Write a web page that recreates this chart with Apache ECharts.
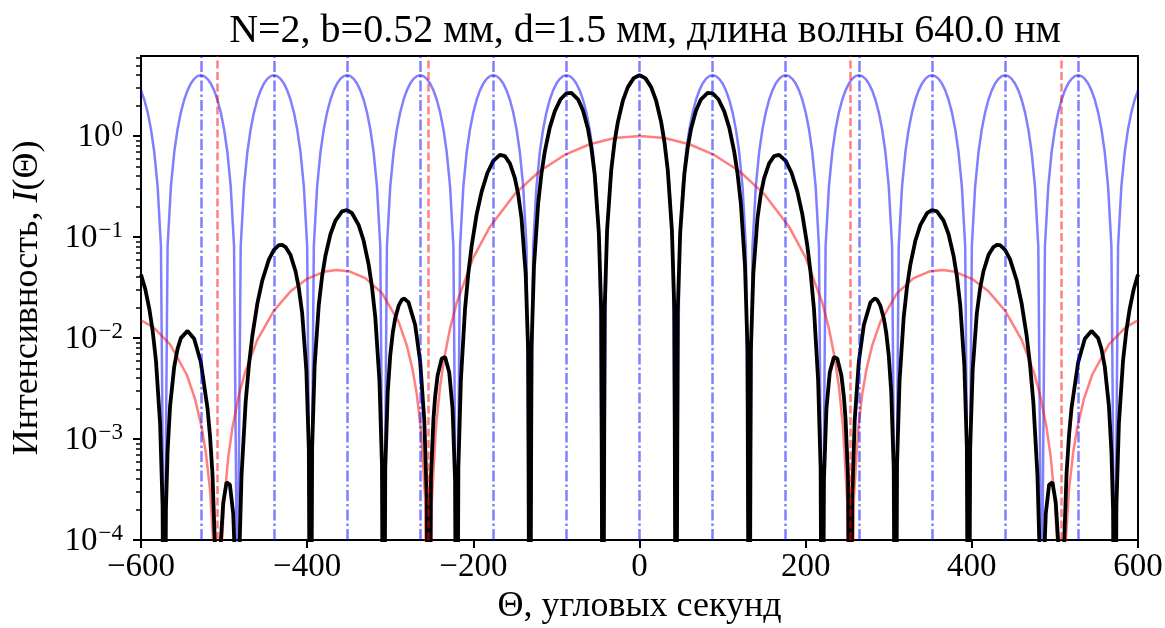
<!DOCTYPE html>
<html>
<head>
<meta charset="utf-8">
<script src="https://cdn.jsdelivr.net/npm/echarts@6/dist/echarts.min.js"></script>
<style>
html, body { margin: 0; padding: 0; background: #fff; }
#chart { width: 1165px; height: 628px; }
</style>
</head>
<body>
<div id="chart"></div>
<script>
var FONT = "'Liberation Serif', 'DejaVu Serif', serif";

// interference term, N=2 (blue)
var blueTheta = [
    -600, -596, -592, -588, -584, -580, -576, -572, -568, -564, -560, -556, -552, -548, -544, -540, -536, -532,
    -528, -524, -520, -516, -512, -508, -504, -500, -496, -492, -488, -484, -480, -476, -472, -468, -464, -460, -456, -452, -448, -444,
    -440, -436, -432, -428, -424, -420, -416, -412, -408, -404, -400, -396, -392, -388, -384, -380, -376, -372, -368, -364, -360, -356,
    -352, -348, -344, -340, -336, -332, -328, -324, -320, -316, -312, -308, -304, -300, -296, -292, -288, -284, -280, -276, -272, -268,
    -264, -260, -256, -252, -248, -244, -240, -236, -232, -228, -224, -220, -216, -212, -208, -204, -200, -196, -192, -188, -184, -180,
    -176, -172, -168, -164, -160, -156, -152, -148, -144, -140, -136, -132, -128, -124, -120, -116, -112, -108, -104, -100, -96, -92,
    -88, -84, -80, -76, -72, -68, -64, -60, -56, -52, -48, -44, -40, -36, -32, -28, -24, -20, -16, -12, -8, -4,
    0, 4, 8, 12, 16, 20, 24, 28, 32, 36, 40, 44, 48, 52, 56, 60, 64, 68, 72, 76, 80, 84,
    88, 92, 96, 100, 104, 108, 112, 116, 120, 124, 128, 132, 136, 140, 144, 148, 152, 156, 160, 164, 168, 172,
    176, 180, 184, 188, 192, 196, 200, 204, 208, 212, 216, 220, 224, 228, 232, 236, 240, 244, 248, 252, 256, 260,
    264, 268, 272, 276, 280, 284, 288, 292, 296, 300, 304, 308, 312, 316, 320, 324, 328, 332, 336, 340, 344, 348,
    352, 356, 360, 364, 368, 372, 376, 380, 384, 388, 392, 396, 400, 404, 408, 412, 416, 420, 424, 428, 432, 436,
    440, 444, 448, 452, 456, 460, 464, 468, 472, 476, 480, 484, 488, 492, 496, 500, 504, 508, 512, 516, 520, 524,
    528, 532, 536, 540, 544, 548, 552, 556, 560, 564, 568, 572, 576, 580, 584, 588, 592, 596, 600
];
var blueIntensity = [
    2.831, 2.285, 1.715, 1.169, 0.6903, 0.3175, 0.081, 1e-5, 0.081, 0.3175, 0.6903, 1.169, 1.715, 2.285, 2.831, 3.31, 3.682, 3.919,
    4, 3.919, 3.682, 3.31, 2.831, 2.285, 1.715, 1.169, 0.6903, 0.3175, 0.081, 1e-5, 0.081, 0.3175, 0.6903, 1.169, 1.715, 2.285, 2.831, 3.31, 3.682, 3.919,
    4, 3.919, 3.682, 3.31, 2.831, 2.285, 1.715, 1.169, 0.6903, 0.3175, 0.081, 1e-5, 0.081, 0.3175, 0.6903, 1.169, 1.715, 2.285, 2.831, 3.31, 3.682, 3.919,
    4, 3.919, 3.682, 3.31, 2.831, 2.285, 1.715, 1.169, 0.6903, 0.3175, 0.081, 1e-5, 0.081, 0.3175, 0.6903, 1.169, 1.715, 2.285, 2.831, 3.31, 3.682, 3.919,
    4, 3.919, 3.682, 3.31, 2.831, 2.285, 1.715, 1.169, 0.6903, 0.3175, 0.081, 1e-5, 0.081, 0.3175, 0.6903, 1.169, 1.715, 2.285, 2.831, 3.31, 3.682, 3.919,
    4, 3.919, 3.682, 3.31, 2.831, 2.285, 1.715, 1.169, 0.6903, 0.3175, 0.081, 1e-5, 0.081, 0.3175, 0.6903, 1.169, 1.715, 2.285, 2.831, 3.31, 3.682, 3.919,
    4, 3.919, 3.682, 3.31, 2.831, 2.285, 1.715, 1.169, 0.6903, 0.3175, 0.081, 1e-5, 0.081, 0.3175, 0.6903, 1.169, 1.715, 2.285, 2.831, 3.31, 3.682, 3.919,
    4, 3.919, 3.682, 3.31, 2.831, 2.285, 1.715, 1.169, 0.6903, 0.3175, 0.081, 1e-5, 0.081, 0.3175, 0.6903, 1.169, 1.715, 2.285, 2.831, 3.31, 3.682, 3.919,
    4, 3.919, 3.682, 3.31, 2.831, 2.285, 1.715, 1.169, 0.6903, 0.3175, 0.081, 1e-5, 0.081, 0.3175, 0.6903, 1.169, 1.715, 2.285, 2.831, 3.31, 3.682, 3.919,
    4, 3.919, 3.682, 3.31, 2.831, 2.285, 1.715, 1.169, 0.6903, 0.3175, 0.081, 1e-5, 0.081, 0.3175, 0.6903, 1.169, 1.715, 2.285, 2.831, 3.31, 3.682, 3.919,
    4, 3.919, 3.682, 3.31, 2.831, 2.285, 1.715, 1.169, 0.6903, 0.3175, 0.081, 1e-5, 0.081, 0.3175, 0.6903, 1.169, 1.715, 2.285, 2.831, 3.31, 3.682, 3.919,
    4, 3.919, 3.682, 3.31, 2.831, 2.285, 1.715, 1.169, 0.6903, 0.3175, 0.081, 1e-5, 0.081, 0.3175, 0.6903, 1.169, 1.715, 2.285, 2.831, 3.31, 3.682, 3.919,
    4, 3.919, 3.682, 3.31, 2.831, 2.285, 1.715, 1.169, 0.6903, 0.3175, 0.081, 1e-5, 0.081, 0.3175, 0.6903, 1.169, 1.715, 2.285, 2.831, 3.31, 3.682, 3.919,
    4, 3.919, 3.682, 3.31, 2.831, 2.285, 1.715, 1.169, 0.6903, 0.3175, 0.081, 1e-5, 0.081, 0.3175, 0.6903, 1.169, 1.715, 2.285, 2.831
];

// single slit envelope (red)
var envTheta = [
    -600, -585, -565, -545, -535, -527, -522, -517, -512, -507.74, -504, -500, -495, -490, -482,
    -475, -460, -440, -420, -400, -380, -365, -350, -330, -310, -290, -280, -273, -268, -263,
    -258, -253.87, -250, -245, -240, -235, -228, -220, -200, -180, -150, -120, -90, -60, -30,
    0,
    30, 60, 90, 120, 150, 180, 200, 220, 228, 235, 240, 245, 250, 253.87, 258,
    263, 268, 273, 280, 290, 310, 330, 350, 365, 380, 400, 420, 440, 460, 475,
    482, 490, 495, 500, 504, 507.74, 512, 517, 522, 527, 535, 545, 565, 585, 600
];
var envIntensity = [
    0.015, 0.01274, 0.008662, 0.004351, 0.002499, 0.00131, 0.0007386, 0.0003193, 0.00006916, 1e-7, 0.00005504, 0.0002389, 0.000657, 0.00129, 0.00276,
    0.004497, 0.009575, 0.01865, 0.02898, 0.03856, 0.04522, 0.04716, 0.04594, 0.03919, 0.02783, 0.01452, 0.00841, 0.004819, 0.002751, 0.0012,
    0.0002561, 1e-7, 0.0002394, 0.001305, 0.003307, 0.006332, 0.01244, 0.02235, 0.06242, 0.1265, 0.2671, 0.4501, 0.6493, 0.8287, 0.9549,
    1,
    0.9549, 0.8287, 0.6493, 0.4501, 0.2671, 0.1265, 0.06242, 0.02235, 0.01244, 0.006332, 0.003307, 0.001305, 0.0002394, 1e-7, 0.0002561,
    0.0012, 0.002751, 0.004819, 0.00841, 0.01452, 0.02783, 0.03919, 0.04594, 0.04716, 0.04522, 0.03856, 0.02898, 0.01865, 0.009575, 0.004497,
    0.00276, 0.00129, 0.000657, 0.0002389, 0.00005504, 1e-7, 0.00006916, 0.0003193, 0.0007386, 0.00131, 0.002499, 0.004351, 0.008662, 0.01274, 0.015
];

// total intensity (black)
var totalTheta = [
    -600, -595, -590, -586, -582, -577, -574, -572, -570, -568,
    -565, -560, -556, -552, -544, -536, -528, -520, -517, -514,
    -510, -507.74, -506, -504, -501, -497, -493, -489, -486, -484,
    -482, -479, -474, -470, -466, -460, -454, -446, -440, -434,
    -430, -426, -420, -414, -410, -406, -401, -398, -396, -394,
    -391, -386, -382, -378, -372, -366, -358, -352, -346, -338,
    -332, -326, -322, -318, -313, -310, -308, -306, -303, -300,
    -297, -294, -290, -286, -283, -278, -270, -264, -259, -256,
    -253.87, -251, -248, -246, -243, -238, -234, -229, -225, -222,
    -220, -218, -215, -210, -206, -202, -196, -190, -183,
    -176, -168, -162, -156, -150, -146, -142, -137, -134,
    -132, -130, -127, -122, -118, -114, -108, -102, -95,
    -88, -82, -74, -68, -62, -58, -54, -49, -46,
    -44, -42, -39, -34, -30, -26, -20, -14, -7,
    0,
    7, 14, 20, 26, 30, 34, 39, 42, 44,
    46, 49, 54, 58, 62, 68, 74, 82, 88,
    95, 102, 108, 114, 118, 122, 127, 130, 132,
    134, 137, 142, 146, 150, 156, 162, 168, 176,
    183, 190, 196, 202, 206, 210, 215, 218, 220,
    222, 225, 229, 234, 238, 243, 246, 248, 251, 253.87,
    256, 259, 264, 270, 278, 283, 286, 290, 294, 297,
    300, 303, 306, 308, 310, 313, 318, 322, 326, 332,
    338, 346, 352, 358, 366, 372, 378, 382, 386, 391,
    394, 396, 398, 401, 406, 410, 414, 420, 426, 430,
    434, 440, 446, 454, 460, 466, 470, 474, 479, 482,
    484, 486, 489, 493, 497, 501, 504, 506, 507.74, 510,
    514, 517, 520, 528, 536, 544, 552, 556, 560, 565,
    568, 570, 572, 574, 577, 582, 586, 590, 595, 600
];
var totalIntensity = [
    0.04248, 0.03076, 0.01945, 0.01184, 0.005969, 0.001418, 0.000215, 1e-7, 0.000198, 0.000754,
    0.002119, 0.005218, 0.007809, 0.009972, 0.01176, 0.009824, 0.005766, 0.002031, 0.00109, 0.000456,
    0.0000503, 1e-7, 0.00002367, 0.00009443, 0.0002351, 0.0003727, 0.0003527, 0.0001825, 0.00003965, 1e-7,
    0.000056, 0.0004365, 0.002342, 0.005491, 0.0105, 0.02188, 0.03714, 0.06012, 0.0746, 0.08309,
    0.08347, 0.07962, 0.06621, 0.04583, 0.03113, 0.01758, 0.004824, 0.000799, 1e-7, 0.000831,
    0.005317, 0.02139, 0.04101, 0.06532, 0.1065, 0.1452, 0.1795, 0.1852, 0.1721, 0.1311,
    0.09177, 0.05335, 0.03219, 0.01608, 0.003764, 0.000565, 1e-7, 0.000512, 0.002935, 0.006727,
    0.01123, 0.01572, 0.02077, 0.02394, 0.0246, 0.02253, 0.01345, 0.005858, 0.001518, 0.000255,
    1e-7, 0.000418, 0.001584, 0.002616, 0.00426, 0.006281, 0.006477, 0.004558, 0.001996, 0.000397,
    1e-7, 0.0005146, 0.003825, 0.01936, 0.04395, 0.08208, 0.1675, 0.2818, 0.4329,
    0.568, 0.65, 0.6313, 0.5364, 0.3822, 0.2654, 0.1532, 0.04334, 0.007326,
    1e-7, 0.007834, 0.05122, 0.2142, 0.4247, 0.7009, 1.21, 1.756, 2.315,
    2.65, 2.675, 2.311, 1.793, 1.172, 0.7696, 0.4214, 0.1117, 0.0182,
    1e-7, 0.01854, 0.117, 0.4617, 0.8753, 1.382, 2.238, 3.05, 3.746,
    4,
    3.746, 3.05, 2.238, 1.382, 0.8753, 0.4617, 0.117, 0.01854, 1e-7,
    0.0182, 0.1117, 0.4214, 0.7696, 1.172, 1.793, 2.311, 2.675, 2.65,
    2.315, 1.756, 1.21, 0.7009, 0.4247, 0.2142, 0.05122, 0.007834, 1e-7,
    0.007326, 0.04334, 0.1532, 0.2654, 0.3822, 0.5364, 0.6313, 0.65, 0.568,
    0.4329, 0.2818, 0.1675, 0.08208, 0.04395, 0.01936, 0.003825, 0.0005146, 1e-7,
    0.000397, 0.001996, 0.004558, 0.006477, 0.006281, 0.00426, 0.002616, 0.001584, 0.000418, 1e-7,
    0.000255, 0.001518, 0.005858, 0.01345, 0.02253, 0.0246, 0.02394, 0.02077, 0.01572, 0.01123,
    0.006727, 0.002935, 0.000512, 1e-7, 0.000565, 0.003764, 0.01608, 0.03219, 0.05335, 0.09177,
    0.1311, 0.1721, 0.1852, 0.1795, 0.1452, 0.1065, 0.06532, 0.04101, 0.02139, 0.005317,
    0.000831, 1e-7, 0.000799, 0.004824, 0.01758, 0.03113, 0.04583, 0.06621, 0.07962, 0.08347,
    0.08309, 0.0746, 0.06012, 0.03714, 0.02188, 0.0105, 0.005491, 0.002342, 0.0004365, 0.000056,
    1e-7, 0.00003965, 0.0001825, 0.0003527, 0.0003727, 0.0002351, 0.00009443, 0.00002367, 1e-7, 0.0000503,
    0.000456, 0.00109, 0.002031, 0.005766, 0.009824, 0.01176, 0.009972, 0.007809, 0.005218, 0.002119,
    0.000754, 0.000198, 1e-7, 0.000215, 0.001418, 0.005969, 0.01184, 0.01945, 0.03076, 0.04248
];

// interference maxima and envelope minima, arcsec
var maxTheta = [-528.04, -440.03, -352.03, -264.02, -176.01, -88.01, 0, 88.01, 176.01, 264.02, 352.03, 440.03, 528.04];
var minTheta = [-507.74, -253.87, 253.87, 507.74];

var yMajor = [1e-4, 1e-3, 1e-2, 1e-1, 1];
var yMinor = [
    2e-4, 3e-4, 4e-4, 5e-4, 6e-4, 7e-4, 8e-4, 9e-4,
    2e-3, 3e-3, 4e-3, 5e-3, 6e-3, 7e-3, 8e-3, 9e-3,
    2e-2, 3e-2, 4e-2, 5e-2, 6e-2, 7e-2, 8e-2, 9e-2,
    0.2, 0.3, 0.4, 0.5, 0.6, 0.7, 0.8, 0.9,
    2, 3, 4, 5, 6
];

function pairs(xs, ys) {
    return xs.map(function (x, i) { return [x, ys[i]]; });
}

var chart = echarts.init(document.getElementById('chart'));

chart.setOption({
    animation: false,
    backgroundColor: '#fff',
    title: {
        text: 'N=2, b=0.52 мм, d=1.5 мм, длина волны 640.0 нм',
        left: 640,
        top: 6,
        textAlign: 'center',
        textStyle: { fontFamily: FONT, fontSize: 40, fontWeight: 'normal', color: '#000' }
    },
    grid: {
        left: 141, right: 27, top: 56, bottom: 88,
        outerBoundsMode: 'none',
        containLabel: false,
        show: true, borderColor: '#000', borderWidth: 2, backgroundColor: 'transparent'
    },
    xAxis: {
        type: 'value',
        min: -600, max: 600, interval: 200,
        axisLine: { onZero: false, lineStyle: { color: '#000', width: 2 } },
        axisTick: { length: 8, lineStyle: { color: '#000', width: 2 } },
        axisLabel: {
            fontFamily: FONT, fontSize: 33, color: '#000', margin: 11,
            formatter: function (v) { return String(v).replace('-', '\u2212'); }
        },
        splitLine: { show: false },
        name: 'Θ, угловых секунд',
        nameLocation: 'middle',
        nameGap: 41,
        nameTextStyle: { fontFamily: FONT, fontSize: 36, color: '#000' }
    },
    yAxis: [{
        type: 'log',
        logBase: 10,
        min: 1e-4, max: 6.2,
        axisLine: { show: true, onZero: false, lineStyle: { color: '#000', width: 2 } },
        axisTick: { show: true, length: 8, lineStyle: { color: '#000', width: 2 }, customValues: yMajor },
        axisLabel: {
            customValues: yMajor,
            margin: 18,
            formatter: function (v) {
                var p = Math.round(Math.log10(v));
                return '{b|10}{s|' + (p < 0 ? '\u2212' + (-p) : p) + '}';
            },
            rich: {
                b: { fontFamily: FONT, fontSize: 33, color: '#000', verticalAlign: 'bottom' },
                s: { fontFamily: FONT, fontSize: 23, color: '#000', verticalAlign: 'bottom', padding: [0, 0, 13, 1] }
            }
        },
        splitLine: { show: false },
        name: '{r|Интенсивность, }{i|I}{r|(Θ)}',
        nameLocation: 'middle',
        nameRotate: 90,
        nameGap: 95,
        nameTextStyle: {
            rich: {
                r: { fontFamily: FONT, fontSize: 36, color: '#000' },
                i: { fontFamily: FONT, fontSize: 36, color: '#000', fontStyle: 'italic' }
            }
        }
    }, {
        type: 'log',
        logBase: 10,
        min: 1e-4, max: 6.2,
        position: 'left',
        axisLine: { show: false, onZero: false },
        axisTick: { show: true, length: 5, lineStyle: { color: '#000', width: 1.5 }, customValues: yMinor },
        axisLabel: { show: false },
        splitLine: { show: false }
    }],
    series: [{
        name: 'interference',
        type: 'line',
        yAxisIndex: 0,
        data: pairs(blueTheta, blueIntensity),
        symbol: 'none',
        z: 2,
        lineStyle: { color: '#0000ff', opacity: 0.5, width: 2.5 },
        itemStyle: { color: '#0000ff' },
        markLine: {
            silent: true,
            symbol: ['none', 'none'],
            label: { show: false },
            lineStyle: { color: '#0000ff', opacity: 0.5, width: 2.5, type: [11, 3, 2.5, 3] },
            data: maxTheta.map(function (v) { return { xAxis: v }; })
        }
    }, {
        name: 'envelope',
        type: 'line',
        yAxisIndex: 0,
        data: pairs(envTheta, envIntensity),
        symbol: 'none',
        z: 3,
        lineStyle: { color: '#ff0000', opacity: 0.5, width: 2.5 },
        itemStyle: { color: '#ff0000' },
        markLine: {
            silent: true,
            symbol: ['none', 'none'],
            label: { show: false },
            lineStyle: { color: '#ff0000', opacity: 0.5, width: 2.5, type: [8, 3.5] },
            data: minTheta.map(function (v) { return { xAxis: v }; })
        }
    }, {
        name: 'total',
        type: 'line',
        yAxisIndex: 0,
        data: pairs(totalTheta, totalIntensity),
        symbol: 'none',
        z: 4,
        lineStyle: { color: '#000', width: 3.8 },
        itemStyle: { color: '#000' }
    }]
});
</script>
</body>
</html>
